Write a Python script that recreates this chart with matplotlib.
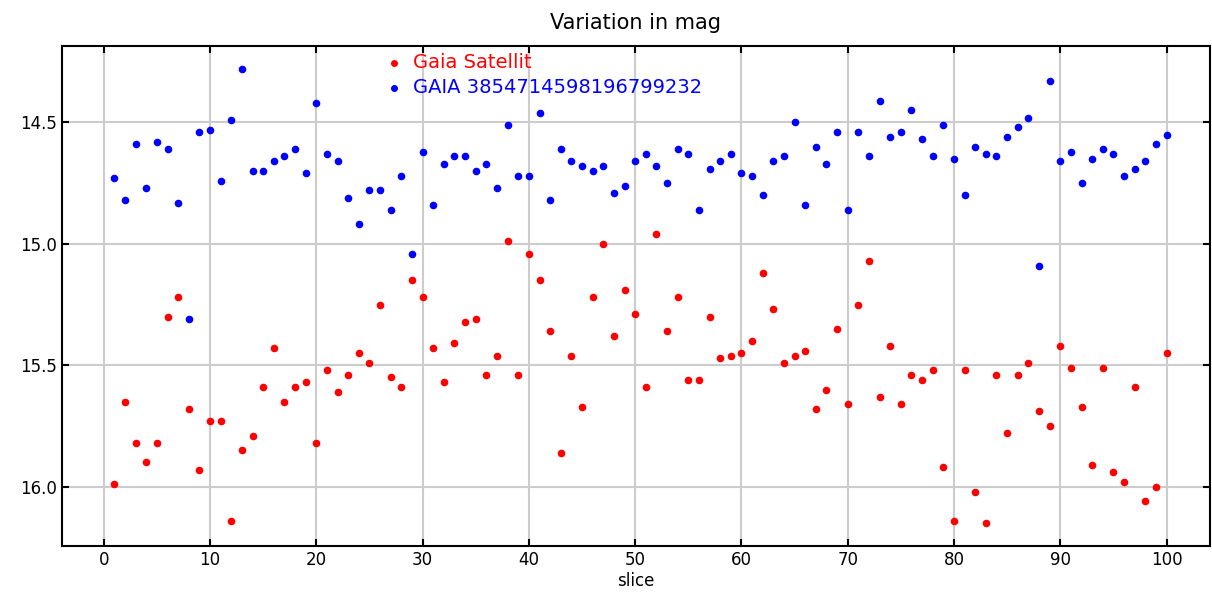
import numpy as np
import matplotlib.pyplot as plt

slices = np.arange(1, 101)

gaia_sat = [15.99, 15.65, 15.82, 15.90, 15.82, 15.30, 15.22, 15.68, 15.93, 15.73,
            15.73, 16.14, 15.85, 15.79, 15.59, 15.43, 15.65, 15.59, 15.57, 15.82,
            15.52, 15.61, 15.54, 15.45, 15.49, 15.25, 15.55, 15.59, 15.15, 15.22,
            15.43, 15.57, 15.41, 15.32, 15.31, 15.54, 15.46, 14.99, 15.54, 15.04,
            15.15, 15.36, 15.86, 15.46, 15.67, 15.22, 15.00, 15.38, 15.19, 15.29,
            15.59, 14.96, 15.36, 15.22, 15.56, 15.56, 15.30, 15.47, 15.46, 15.45,
            15.40, 15.12, 15.27, 15.49, 15.46, 15.44, 15.68, 15.60, 15.35, 15.66,
            15.25, 15.07, 15.63, 15.42, 15.66, 15.54, 15.56, 15.52, 15.92, 16.14,
            15.52, 16.02, 16.15, 15.54, 15.78, 15.54, 15.49, 15.69, 15.75, 15.42,
            15.51, 15.67, 15.91, 15.51, 15.94, 15.98, 15.59, 16.06, 16.00, 15.45]

gaia_star = [14.73, 14.82, 14.59, 14.77, 14.58, 14.61, 14.83, 15.31, 14.54, 14.53,
             14.74, 14.49, 14.28, 14.70, 14.70, 14.66, 14.64, 14.61, 14.71, 14.42,
             14.63, 14.66, 14.81, 14.92, 14.78, 14.78, 14.86, 14.72, 15.04, 14.62,
             14.84, 14.67, 14.64, 14.64, 14.70, 14.67, 14.77, 14.51, 14.72, 14.72,
             14.46, 14.82, 14.61, 14.66, 14.68, 14.70, 14.68, 14.79, 14.76, 14.66,
             14.63, 14.68, 14.75, 14.61, 14.63, 14.86, 14.69, 14.66, 14.63, 14.71,
             14.72, 14.80, 14.66, 14.64, 14.50, 14.84, 14.60, 14.67, 14.54, 14.86,
             14.54, 14.64, 14.41, 14.56, 14.54, 14.45, 14.57, 14.64, 14.51, 14.65,
             14.80, 14.60, 14.63, 14.64, 14.56, 14.52, 14.48, 15.09, 14.33, 14.66,
             14.62, 14.75, 14.65, 14.61, 14.63, 14.72, 14.69, 14.66, 14.59, 14.55]

fig = plt.figure(figsize=(12.12, 5.99), dpi=100)
ax = fig.add_axes([0.051, 0.0885, 0.947, 0.8345])

ax.scatter(slices, gaia_sat, s=20, color='red', label='Gaia Satellit', zorder=3)
ax.scatter(slices, gaia_star, s=20, color='blue', label='GAIA 3854714598196799232', zorder=3)

ax.set_xlim(-3.95, 104.05)
ax.set_ylim(16.244, 14.186)
ax.set_xticks(np.arange(0, 101, 10))
ax.set_yticks([14.5, 15.0, 15.5, 16.0])
ax.set_yticklabels(['14.5', '15.0', '15.5', '16.0'])
ax.grid(color='#cccccc', linewidth=1.5)
ax.set_axisbelow(True)
ax.tick_params(direction='in', length=5, width=1.5, top=True, right=True, labelsize=12)
for s in ax.spines.values():
    s.set_linewidth(1.5)

ax.set_title('Variation in mag', fontsize=15, pad=12)
ax.set_xlabel('slice', fontsize=12, labelpad=2)

leg = ax.legend(loc='upper left', bbox_to_anchor=(0.262, 1.01), frameon=False,
                fontsize=14, handletextpad=0.0, borderaxespad=0.2,
                labelspacing=0.3, markerscale=0.9)
for t, c in zip(leg.get_texts(), ['red', 'blue']):
    t.set_color(c)

fig.savefig('out.png', dpi=100)
